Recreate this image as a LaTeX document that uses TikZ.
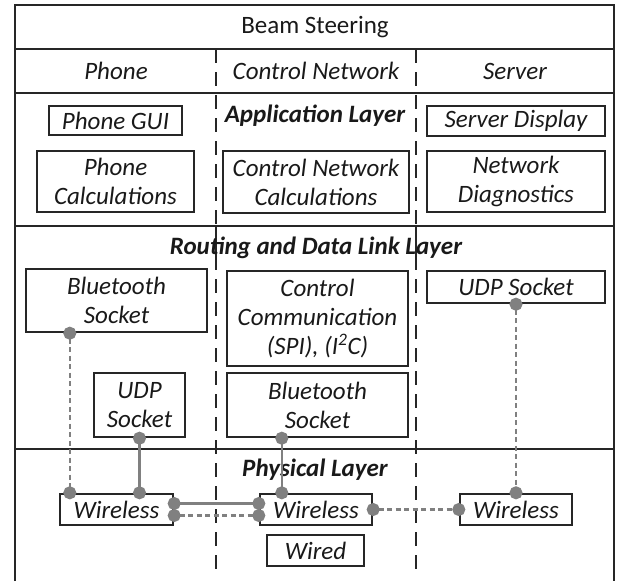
\documentclass[tikz,border=0pt]{standalone}
\usepackage{fontspec}
\setmainfont{Carlito}
\usetikzlibrary{arrows.meta}

\newcommand{\txtsize}{\fontsize{25}{29}\selectfont}

\tikzset{
  plain/.style={text=black!90, font=\txtsize},
  head/.style={text=black!90, font=\txtsize\itshape},
  layer/.style={text=black!90, font=\txtsize\bfseries\itshape},
  box/.style={draw=black!85, line width=2.4pt, inner sep=0pt, align=center, text=black!90, font=\txtsize\itshape},
  link/.style={draw=black!50, line width=2.4pt, {Circle[length=13pt]}-{Circle[length=13pt]}, shorten <=-6.5pt, shorten >=-6.5pt},
  dlink/.style={link, dash pattern=on 5pt off 3.5pt},
  column/.style={draw=black!85, line width=2.4pt, dash pattern=on 14pt off 9pt},
}

\begin{document}
\begin{tikzpicture}[x=1pt, y=-1pt]
  \def\xl{15} \def\xr{614}
  \def\ya{5} \def\yb{49} \def\yc{93} \def\yd{226} \def\ye{449} \def\yf{581}
  \def\ca{216} \def\cb{416}
  \useasboundingbox (0,0) rectangle (618,581);

  % frame, rows and columns
  \draw[black!85, line width=2.4pt] (\xl,\yf) -- (\xl,\ya) -- (\xr,\ya) -- (\xr,\yf);
  \foreach \y in {\yb,\yc,\yd,\ye}
    \draw[black!85, line width=2.4pt] (\xl,\y) -- (\xr,\y);
  \foreach \x in {\ca,\cb} {
    \draw[column] (\x,\yb) -- (\x,572);
    \draw[black!85, line width=2.4pt] (\x,\yd) -- (\x,258);
  }

  % headers
  \node[plain] (title) at (315,27) {Beam Steering};
  \node[head] (hphone) at (116,71) {Phone};
  \node[head] (hcontrol) at (316,71) {Control Network};
  \node[head] (hserver) at (515,71) {Server};

  % application layer
  \node[layer] (applayer) at (315,116) {Application Layer};
  \node[box, minimum width=133pt, minimum height=29pt] (gui) at (115.5,120.5) {Phone GUI};
  \node[box, minimum width=157pt, minimum height=61pt] (calcph) at (115.5,181.5) {Phone\\Calculations};
  \node[box, minimum width=186pt, minimum height=62pt] (calccn) at (316,182) {Control Network\\Calculations};
  \node[box, minimum width=178pt, minimum height=30pt] (display) at (516,121) {Server Display};
  \node[box, minimum width=178pt, minimum height=61pt] (diag) at (516,181.5) {Network\\Diagnostics};

  % routing and data link layer
  \node[layer] (routelayer) at (316,248) {Routing and Data Link Layer};
  \node[box, minimum width=181pt, minimum height=63pt] (btph) at (116.5,300.5) {Bluetooth\\Socket};
  \node[box, minimum width=91pt, minimum height=64pt] (udpph) at (139.5,405) {UDP\\Socket};
  \node[box, minimum width=181pt, minimum height=95pt] (ctrl) at (317.5,318.5) {Control\\Communication\\(SPI), (I\textsuperscript{2}C)};
  \node[box, minimum width=181pt, minimum height=64pt] (btcn) at (317.5,405) {Bluetooth\\Socket};
  \node[box, minimum width=178pt, minimum height=32pt] (udpsv) at (516,287) {UDP Socket};

  % physical layer
  \node[layer] (phylayer) at (315,470) {Physical Layer};
  \node[box, minimum width=113pt, minimum height=31pt] (wlph) at (116.5,509.5) {Wireless};
  \node[box, minimum width=112pt, minimum height=31pt] (wlcn) at (316,509.5) {Wireless};
  \node[box, minimum width=112pt, minimum height=31pt] (wlsv) at (516,509.5) {Wireless};
  \node[box, minimum width=97pt, minimum height=31pt] (wired) at (315.5,550.5) {Wired};

  % links
  \coordinate (bt1) at ([xshift=11pt]wlph.north west);
  \coordinate (bt2) at ([xshift=23pt]wlcn.north west);
  \draw[dlink] (btph.south -| bt1) -- (bt1);
  \draw[link] (udpph.south) -- (wlph.north -| udpph.south);
  \draw[link] (btcn.south -| bt2) -- (bt2);
  \draw[dlink] (udpsv.south) -- (wlsv.north -| udpsv.south);
  \draw[link] ([yshift=6pt]wlph.east) -- ([yshift=6pt]wlph.east -| wlcn.west);
  \draw[dlink] ([yshift=-6pt]wlph.east) -- ([yshift=-6pt]wlph.east -| wlcn.west);
  \draw[dlink] (wlcn.east) -- (wlsv.west);
\end{tikzpicture}
\end{document}
